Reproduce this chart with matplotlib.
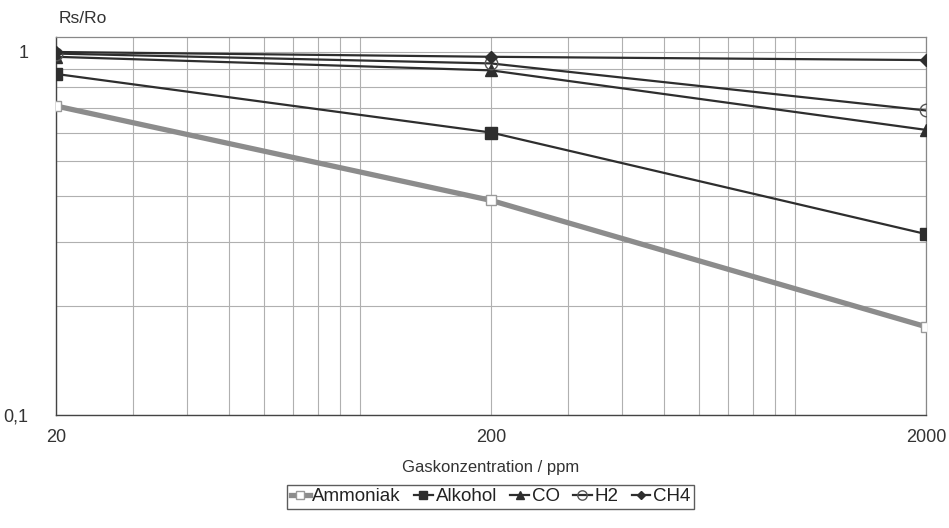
import matplotlib
matplotlib.use("Agg")
from matplotlib import pyplot as plt
from matplotlib.ticker import FixedLocator, NullFormatter, FixedFormatter

plt.rcParams['font.family'] = ['Liberation Sans', 'DejaVu Sans']

# gas concentration in ppm
konz = [20, 200, 2000]

# Rs/Ro
ammoniak = [0.71, 0.39, 0.175]
alkohol = [0.87, 0.60, 0.315]
co = [0.97, 0.89, 0.61]
h2 = [0.99, 0.93, 0.69]
ch4 = [1.0, 0.97, 0.95]

x_ticks = [20, 200, 2000]
x_labels = ["20", "200", "2000"]
y_ticks = [0.1, 1]
y_labels = ["0,1", "1"]

fig = plt.figure(figsize=(9.49, 5.28), dpi=100)
ax = fig.add_axes([0.059, 0.214, 0.917, 0.716])

dark = "#2e2e2e"
ax.plot(konz, ammoniak, color="#8c8c8c", lw=3.8, marker="s", ms=7,
        mfc="white", mec="#9a9a9a", label="Ammoniak", zorder=3)
ax.plot(konz, alkohol, color=dark, lw=1.6, marker="s", ms=8,
        mfc=dark, mec=dark, label="Alkohol", zorder=4)
ax.plot(konz, co, color=dark, lw=1.6, marker="^", ms=8,
        mfc=dark, mec=dark, label="CO", zorder=4)
ax.plot(konz, h2, color=dark, lw=1.6, marker="o", ms=9,
        mfc="none", mec="#555555", label="H2", zorder=4)
ax.plot(konz, ch4, color=dark, lw=1.6, marker="D", ms=6,
        mfc=dark, mec=dark, label="CH4", zorder=5)

ax.set_xscale("log")
ax.set_yscale("log")
ax.set_xlim(20, 2000)
ax.set_ylim(0.1, 1.1)

ax.xaxis.set_major_locator(FixedLocator(x_ticks))
ax.xaxis.set_major_formatter(FixedFormatter(x_labels))
ax.yaxis.set_major_locator(FixedLocator(y_ticks))
ax.yaxis.set_major_formatter(FixedFormatter(y_labels))
x_minor = [30, 40, 50, 60, 70, 80, 90, 100, 300, 400, 500, 600, 700, 800, 900, 1000]
y_minor = [0.2, 0.3, 0.4, 0.5, 0.6, 0.7, 0.8, 0.9]
ax.xaxis.set_minor_locator(FixedLocator(x_minor))
ax.yaxis.set_minor_locator(FixedLocator(y_minor))
ax.xaxis.set_minor_formatter(NullFormatter())
ax.yaxis.set_minor_formatter(NullFormatter())

ax.grid(True, which="both", color="#b0b0b0", lw=0.8)
ax.tick_params(which="both", length=0, labelsize=13, colors="#333333")
ax.tick_params(axis="x", pad=10)
ax.tick_params(axis="y", pad=20)

for side in ["top", "right"]:
    ax.spines[side].set_color("#888888")
    ax.spines[side].set_linewidth(0.9)
for side in ["left", "bottom"]:
    ax.spines[side].set_color("#444444")
    ax.spines[side].set_linewidth(1.0)

fig.text(0.062, 0.965, "Rs/Ro", fontsize=12.5, color="#333333", va="center")
ax.set_xlabel("Gaskonzentration / ppm", fontsize=12, color="#333333", labelpad=10)

leg = fig.legend(loc="center", bbox_to_anchor=(0.517, 0.059), ncol=5,
                 fontsize=13.5, frameon=True, fancybox=False, handlelength=1.0,
                 handletextpad=0.15, columnspacing=0.7, borderpad=0.2,
                 borderaxespad=0, markerscale=0.75)
leg.get_frame().set_edgecolor("#333333")
leg.get_frame().set_linewidth(1.0)
for t in leg.get_texts():
    t.set_color("#222222")

fig.savefig("out.png", dpi=100)
